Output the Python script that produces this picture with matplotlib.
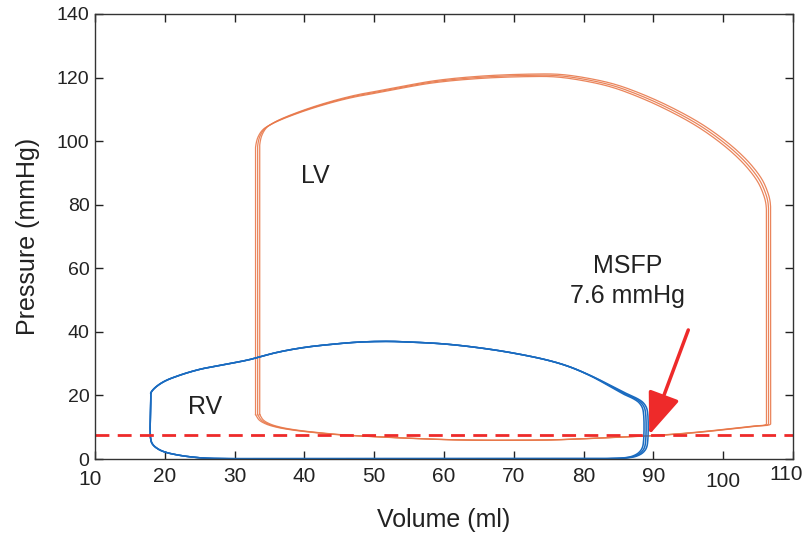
import numpy as np
import matplotlib
matplotlib.use("Agg")
import matplotlib.pyplot as plt
from matplotlib.transforms import ScaledTranslation

plt.rcParams['font.family'] = ['Liberation Sans', 'DejaVu Sans']

# ---- data ----
# LV loop: filling -> isovolumic contraction -> ejection -> isovolumic relaxation
lv_vol = [33.0, 33.5, 34.5, 36.0, 38.0, 41.0, 45.0, 50.0, 55.0, 60.0, 65.0, 70.0, 75.0, 80.0,
          85.0, 90.0, 95.0, 100.0, 104.0, 106.2,
          106.2, 106.1, 105.8, 105.0, 103.5, 101.5, 99.0, 96.0, 92.0, 88.0, 84.0, 80.0, 76.0,
          72.0, 65.0, 58.0, 51.0, 47.0, 43.7, 40.0, 36.5, 35.0, 34.0, 33.3, 33.0, 33.0]
lv_pres = [14.0, 12.3, 11.0, 10.0, 9.2, 8.4, 7.6, 7.0, 6.5, 6.1, 5.9, 5.9, 6.0, 6.4,
           6.9, 7.4, 8.2, 9.3, 10.3, 11.0,
           78.0, 80.5, 83.0, 87.0, 91.5, 96.0, 100.5, 105.0, 109.8, 113.8, 117.0, 119.0, 120.2,
           120.3, 119.7, 118.2, 115.4, 113.8, 112.0, 109.5, 106.6, 105.0, 103.5, 101.0, 98.0, 14.0]
lv_beat_shift = [0.0, 0.3, 0.6]       # ml, beat-to-beat shift
lv_beat_pshift = [0.0, 0.4, 0.8]      # mmHg

# RV loop
rv_vol = [18.0, 18.0, 18.3, 19.0, 20.0, 22.0, 24.0, 26.0, 30.0, 40.0, 50.0, 60.0, 70.0, 80.0,
          84.0, 86.0, 87.3, 88.2, 88.7, 88.9,
          88.9, 88.7, 88.2, 87.4, 86.3, 84.0, 81.0, 78.0, 75.0, 70.0, 65.0, 60.0, 55.0, 52.0,
          48.0, 44.0, 40.0, 36.0, 32.0, 28.0, 25.0, 22.2, 20.0, 18.8, 18.2, 18.0]
rv_pres = [20.8, 6.0, 4.5, 3.2, 2.2, 1.2, 0.6, 0.25, 0.1, 0.1, 0.1, 0.1, 0.1, 0.1,
           0.15, 0.35, 0.9, 2.0, 3.5, 6.0,
           14.0, 16.2, 17.8, 19.0, 20.1, 22.8, 26.2, 29.0, 31.0, 33.3, 35.0, 36.2, 36.8, 37.0,
           36.8, 36.1, 35.1, 33.5, 31.2, 29.5, 28.2, 26.4, 24.5, 22.8, 21.5, 20.8]
rv_beat_edv_shift = [-0.3, 0.0, 0.3]  # ml, end-diastolic volume variation between beats

msfp = 7.6
xticks = [10, 20, 30, 40, 50, 60, 70, 80, 90, 100, 110]
yticks = [0, 20, 40, 60, 80, 100, 120, 140]


def smooth_path(x, y, n=12, straight=60.0):
    """Draw through the given points with centripetal Catmull-Rom curves;
    long isovolumic segments are kept straight."""
    P = np.column_stack([np.asarray(x, float) * 6.975, np.asarray(y, float) * 3.18])
    P = np.vstack([P[0] - (P[1] - P[0]), P, P[-1] + (P[-1] - P[-2])])
    out = []
    for i in range(1, len(P) - 2):
        p0, p1, p2, p3 = P[i - 1].copy(), P[i], P[i + 1], P[i + 2].copy()
        if np.hypot(*(p2 - p1)) > straight:
            out.append(p1[None, :])
            continue
        # neighbours across a long straight segment: use a short step along it
        if np.hypot(*(p1 - p0)) > straight:
            p0 = p1 - (p1 - p0) / np.hypot(*(p1 - p0)) * 5.0
        if np.hypot(*(p3 - p2)) > straight:
            p3 = p2 + (p3 - p2) / np.hypot(*(p3 - p2)) * 5.0

        def tj(ti, a, b):
            return ti + max(np.hypot(*(b - a)), 1e-6) ** 0.5
        t0 = 0.0; t1 = tj(t0, p0, p1); t2 = tj(t1, p1, p2); t3 = tj(t2, p2, p3)
        t = np.linspace(t1, t2, n, endpoint=False)[:, None]
        A1 = (t1 - t) / (t1 - t0) * p0 + (t - t0) / (t1 - t0) * p1
        A2 = (t2 - t) / (t2 - t1) * p1 + (t - t1) / (t2 - t1) * p2
        A3 = (t3 - t) / (t3 - t2) * p2 + (t - t2) / (t3 - t2) * p3
        B1 = (t2 - t) / (t2 - t0) * A1 + (t - t0) / (t2 - t0) * A2
        B2 = (t3 - t) / (t3 - t1) * A2 + (t - t1) / (t3 - t1) * A3
        C = (t2 - t) / (t2 - t1) * B1 + (t - t1) / (t2 - t1) * B2
        out.append(C)
    out.append(P[-2][None, :])
    out = np.vstack(out)
    return out[:, 0] / 6.975, out[:, 1] / 3.18


# ---- figure ----
fig = plt.figure(figsize=(8.06, 5.34), dpi=100)
ax = fig.add_axes([95/806, 1 - 459/534, (793-95)/806, (459-14)/534])

lv_c = '#E8784A'
rv_c = '#1A6BC0'
red = '#EE2A2A'

lvv = np.array(lv_vol); lvp = np.array(lv_pres)
for dv, dp in zip(lv_beat_shift, lv_beat_pshift):
    sx, sy = smooth_path(lvv + dv, lvp + dp * (lvp > 60))
    ax.plot(sx, sy, color=lv_c, lw=0.9, alpha=0.9, solid_joinstyle='round')

rvv = np.array(rv_vol); rvp = np.array(rv_pres)
w = np.clip((rvv - 80.0) / 6.0, 0, 1)
for dv in rv_beat_edv_shift:
    sx, sy = smooth_path(rvv + dv * w, rvp)
    ax.plot(sx, sy, color=rv_c, lw=1.1, solid_joinstyle='round')

ax.axhline(msfp, color=red, lw=2.0, linestyle=(0, (5.0, 3.0)))

ax.annotate('', xy=(89.4, 7.6), xytext=(95.0, 40.6),
            arrowprops=dict(arrowstyle='-|>,head_length=1.3,head_width=0.5',
                            color=red, lw=2.5, shrinkA=0, shrinkB=0,
                            mutation_scale=20))

ax.text(86.3, 56.0, 'MSFP\n7.6 mmHg', ha='center', va='center', fontsize=18,
        linespacing=1.3, color='#222222')
ax.text(41.5, 89.0, 'LV', ha='center', va='center', fontsize=18, color='#222222')
ax.text(25.8, 16.5, 'RV', ha='center', va='center', fontsize=18, color='#222222')

ax.set_xlim(10, 110)
ax.set_ylim(0, 140)
ax.set_xticks(xticks)
ax.set_yticks(yticks)
ax.tick_params(direction='in', length=6, width=1, top=True, right=True,
               colors='#222222', pad=4)
ax.tick_params(axis='x', labelsize=15, pad=6)
ax.tick_params(axis='y', labelsize=14, pad=4)
for s in ax.spines.values():
    s.set_linewidth(1.0)
    s.set_color('#333333')

ax.set_xlabel('Volume (ml)', fontsize=18, labelpad=12, color='#222222')
ax.set_ylabel('Pressure (mmHg)', fontsize=18, labelpad=12, color='#222222')

fig.canvas.draw()
offsets = {'10': (-5, -3), '100': (0, -5), '110': (-7, 2)}
for lab in ax.get_xticklabels():
    t = lab.get_text()
    if t in offsets:
        dx, dy = offsets[t]
        lab.set_transform(lab.get_transform() +
                          ScaledTranslation(dx / 100, dy / 100, fig.dpi_scale_trans))

fig.savefig('out.png', dpi=100)
